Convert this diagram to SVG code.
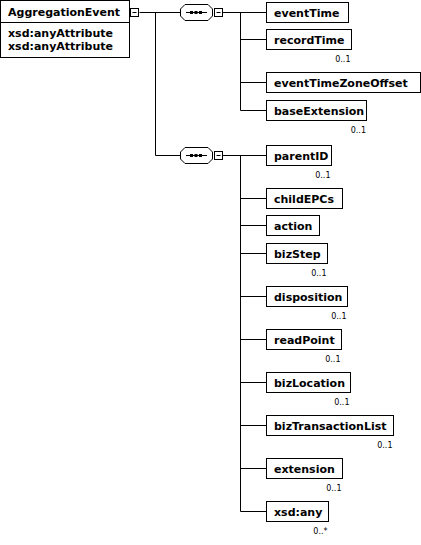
<svg xmlns="http://www.w3.org/2000/svg" width="421" height="545" viewBox="0 0 421 545">
<style>
.bx{fill:#fff;stroke:#000;stroke-width:1}
.ln{fill:none;stroke:#000;stroke-width:1}
.t{font-family:"DejaVu Sans",Verdana,sans-serif;font-size:11px;font-weight:bold;fill:#000}
.o{font-family:"DejaVu Sans",Verdana,sans-serif;font-size:8px;fill:#000;text-anchor:end}
</style>
<defs>
<g id="seq">
<path class="bx" d="M185,4.5 H208 L212.5,9 V16 L208,20.5 H185 L180.5,16 V9 Z"/>
<line class="ln" x1="186" y1="12.5" x2="207" y2="12.5"/>
<rect x="190" y="11" width="3" height="3" fill="#000"/>
<rect x="194.5" y="11" width="3" height="3" fill="#000"/>
<rect x="199" y="11" width="3" height="3" fill="#000"/>
<rect class="bx" x="214.5" y="8.5" width="8" height="8"/>
<line class="ln" x1="216.5" y1="12.5" x2="220.5" y2="12.5"/>
</g>
</defs>
<g id="connectors">
<path class="ln" d="M139.5,12.5 H180.5 M155.5,12.5 V155.5 H180.5"/>
<path class="ln" d="M222.5,12.5 H266.5 M240.5,12.5 V110.5 M240.5,39.5 H266.5 M240.5,82.5 H266.5 M240.5,110.5 H266.5"/>
<path class="ln" d="M222.5,155.5 H266.5 M240.5,155.5 V511.5 M240.5,198.5 H266.5 M240.5,225.5 H266.5 M240.5,253.5 H266.5 M240.5,296.5 H266.5 M240.5,339.5 H266.5 M240.5,382.5 H266.5 M240.5,425.5 H266.5 M240.5,468.5 H266.5 M240.5,511.5 H266.5"/>
</g>
<g id="AggregationEvent">
<rect class="bx" x="0.5" y="0.5" width="129" height="57"/>
<line class="ln" x1="0.5" y1="22.5" x2="129.5" y2="22.5"/>
<text class="t" x="8" y="16">AggregationEvent</text>
<text class="t" x="8" y="37">xsd:anyAttribute</text>
<text class="t" x="8" y="50">xsd:anyAttribute</text>
<rect class="bx" x="130.5" y="8.5" width="8" height="8"/>
<line class="ln" x1="132.5" y1="12.5" x2="136.5" y2="12.5"/>
</g>
<g id="sequence1"><use href="#seq"/></g>
<g id="sequence2"><use href="#seq" y="143"/></g>
<g id="eventTime"><rect class="bx" x="266.5" y="2.5" width="82" height="20"/><text class="t" x="274" y="16.5">eventTime</text></g>
<g id="recordTime"><rect class="bx" x="266.5" y="29.5" width="85" height="20"/><text class="t" x="274" y="43.5">recordTime</text><text class="o" x="350.5" y="62">0..1</text></g>
<g id="eventTimeZoneOffset"><rect class="bx" x="266.5" y="72.5" width="154" height="20"/><text class="t" x="274" y="86.5">eventTimeZoneOffset</text></g>
<g id="baseExtension"><rect class="bx" x="266.5" y="100.5" width="100" height="20"/><text class="t" x="274" y="114.5">baseExtension</text><text class="o" x="366" y="133">0..1</text></g>
<g id="parentID"><rect class="bx" x="266.5" y="145.5" width="65" height="20"/><text class="t" x="274" y="159.5">parentID</text><text class="o" x="330.5" y="178">0..1</text></g>
<g id="childEPCs"><rect class="bx" x="266.5" y="188.5" width="76" height="20"/><text class="t" x="274" y="202.5">childEPCs</text></g>
<g id="action"><rect class="bx" x="266.5" y="215.5" width="53" height="20"/><text class="t" x="274" y="229.5">action</text></g>
<g id="bizStep"><rect class="bx" x="266.5" y="243.5" width="61" height="20"/><text class="t" x="274" y="257.5">bizStep</text><text class="o" x="326.5" y="276">0..1</text></g>
<g id="disposition"><rect class="bx" x="266.5" y="286.5" width="81" height="20"/><text class="t" x="274" y="300.5">disposition</text><text class="o" x="346.5" y="319">0..1</text></g>
<g id="readPoint"><rect class="bx" x="266.5" y="329.5" width="75" height="20"/><text class="t" x="274" y="343.5">readPoint</text><text class="o" x="340.5" y="362">0..1</text></g>
<g id="bizLocation"><rect class="bx" x="266.5" y="372.5" width="84" height="20"/><text class="t" x="274" y="386.5">bizLocation</text><text class="o" x="349.5" y="405">0..1</text></g>
<g id="bizTransactionList"><rect class="bx" x="266.5" y="415.5" width="127" height="20"/><text class="t" x="274" y="429.5">bizTransactionList</text><text class="o" x="392.5" y="448">0..1</text></g>
<g id="extension"><rect class="bx" x="266.5" y="458.5" width="76" height="20"/><text class="t" x="274" y="472.5">extension</text><text class="o" x="341.5" y="491">0..1</text></g>
<g id="xsd_any"><rect class="bx" x="266.5" y="501.5" width="62" height="20"/><text class="t" x="274" y="515.5">xsd:any</text><text class="o" x="327.5" y="534">0..*</text></g>
</svg>
